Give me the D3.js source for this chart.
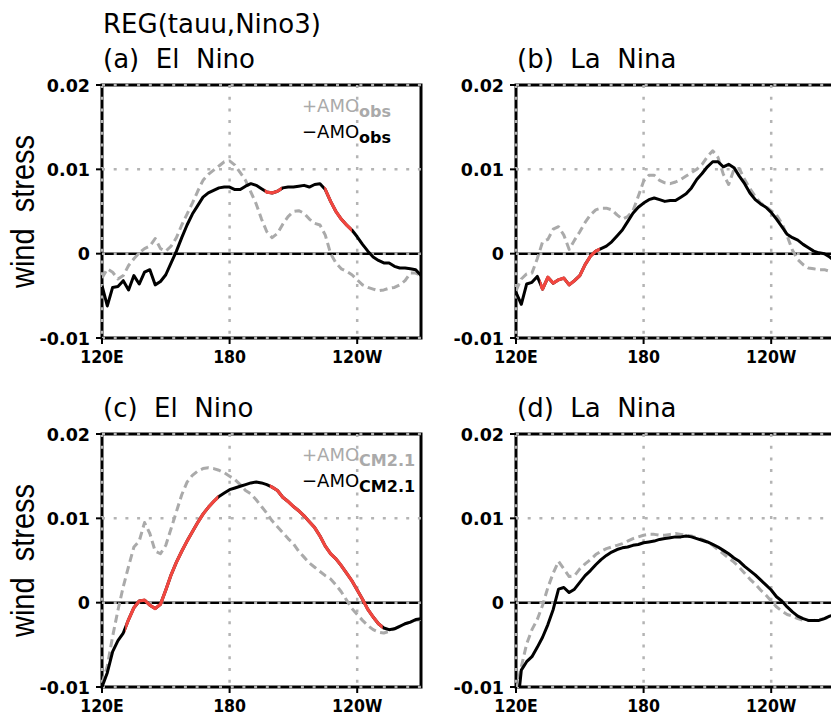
<!DOCTYPE html>
<html>
<head>
<meta charset="utf-8">
<script src="https://cdn.jsdelivr.net/npm/d3@7"></script>
<style>
  body { margin: 0; background: #fff; }
  text { white-space: pre; }
</style>
</head>
<body>
<svg id="chart" width="831" height="721"></svg>
<script>
// longitude grid (degrees east), 2.5 deg steps
const lons = d3.range(120, 270.001, 2.5);
const xTicks = [120, 180, 240];
const xTickLabels = ["120E", "180", "120W"];
const yTicks = [-0.01, 0, 0.01, 0.02];
const yTickLabels = ["-0.01", "0", "0.01", "0.02"];

// regression values, units of 1e-3
const obsElNinoPos = [
  -2.9, -1.8, -2.2, -3.0, -2.6, -1.4, -0.6, 0.1, 0.6, 0.9,
  1.8, 0.6, 0.3, 0.9, 1.9, 3.4, 4.7, 6.0, 7.4, 8.7,
  9.4, 9.9, 10.4, 10.9, 11.0, 10.5, 9.6, 8.7, 7.3, 5.9,
  4.1, 2.6, 1.9, 2.4, 3.5, 4.4, 5.0, 5.1, 4.8, 4.1,
  3.6, 3.4, 2.2, 0.0, -1.1, -1.8, -2.1, -2.5, -3.1, -3.7,
  -4.0, -4.2, -4.4, -4.3, -4.1, -4.0, -3.7, -3.2, -2.3, -2.3,
  -2.6
];
const obsElNinoNeg = [
  -3.8, -6.2, -4.0, -3.9, -3.2, -4.3, -2.6, -3.6, -2.2, -1.9,
  -3.7, -3.3, -2.5, -1.1, 0.3, 1.9, 3.4, 4.7, 5.7, 6.7,
  7.2, 7.5, 7.8, 7.9, 7.9, 7.6, 7.6, 8.0, 8.3, 8.1,
  7.7, 7.3, 7.2, 7.4, 7.8, 7.9, 7.9, 8.0, 8.1, 7.9,
  8.2, 8.3, 7.6, 6.2, 5.0, 4.1, 3.4, 2.8, 2.0, 1.1,
  0.3, -0.4, -0.8, -1.1, -1.1, -1.5, -1.7, -1.7, -1.8, -1.9,
  -2.6
];
const obsLaNinaPos = [
  -4.4, -3.0, -2.4, -2.3, -0.6, 1.4, 1.7, 2.9, 3.2, 2.2,
  0.5, 1.6, 2.6, 3.7, 4.6, 5.2, 5.4, 5.4, 5.2, 4.6,
  4.1, 4.4, 5.1, 6.8, 8.6, 9.3, 9.3, 8.7, 8.4, 8.3,
  8.5, 8.8, 9.2, 9.6, 10.0, 10.6, 11.5, 12.2, 11.4, 9.4,
  8.2, 10.0, 10.1, 8.8, 7.7, 6.8, 6.0, 5.6, 5.1, 4.6,
  3.6, 2.1, 0.4, -0.7, -1.3, -1.7, -1.8, -1.9, -1.9, -2.1,
  -2.2
];
const obsLaNinaNeg = [
  -4.6, -6.0, -3.6, -3.4, -2.7, -4.2, -2.8, -3.5, -3.1, -2.9,
  -3.7, -3.2, -2.6, -1.3, -0.3, 0.3, 0.6, 0.9, 1.4, 2.1,
  2.8, 3.8, 4.8, 5.5, 6.0, 6.4, 6.6, 6.4, 6.2, 6.3,
  6.3, 6.7, 7.1, 7.8, 8.8, 9.5, 10.3, 10.9, 10.9, 10.3,
  10.6, 10.2, 9.2, 8.3, 7.2, 6.4, 5.9, 5.5, 4.9, 4.1,
  3.2, 2.3, 1.9, 1.6, 1.1, 0.7, 0.3, 0.1, 0.0, -0.4,
  -0.9
];
const cmElNinoPos = [
  -9.6, -7.5, -4.0, -0.9, 1.9, 4.3, 6.6, 7.3, 9.5, 8.2,
  6.1, 5.8, 6.8, 8.8, 10.8, 12.8, 14.3, 15.1, 15.6, 15.9,
  16.0, 15.9, 15.7, 15.4, 15.0, 14.6, 14.0, 13.3, 12.9, 12.2,
  11.4, 10.6, 9.7, 9.0, 8.3, 7.6, 7.0, 6.1, 5.4, 4.7,
  4.2, 3.7, 3.2, 2.8, 2.1, 1.3, 0.3, -0.7, -1.4, -2.1,
  -2.7, -3.2, -3.5, -3.6, -3.4, -3.1, -2.8, -2.5, -2.3, -2.1,
  -2.0
];
const cmElNinoNeg = [
  -10.0, -8.3, -5.8, -4.5, -3.6, -2.0, -0.6, 0.2, 0.3, -0.3,
  -0.7, -0.2, 1.5, 3.3, 4.8, 6.1, 7.3, 8.4, 9.5, 10.5,
  11.3, 12.0, 12.6, 13.0, 13.4, 13.6, 13.8, 14.0, 14.2, 14.3,
  14.2, 14.0, 13.7, 13.3, 12.5, 12.0, 11.4, 10.9, 10.3, 9.6,
  8.9, 7.9, 6.7, 5.8, 5.2, 4.4, 3.5, 2.6, 1.5, 0.4,
  -0.8, -1.7, -2.5, -3.0, -3.2, -3.1, -2.8, -2.5, -2.3, -2.0,
  -1.9
];
const cmLaNinaPos = [
  -10.5, -7.6, -4.9, -3.2, -2.0, -0.3, 1.8, 3.5, 4.9, 4.0,
  3.1, 3.2, 4.0, 4.6, 5.1, 5.7, 6.1, 6.4, 6.6, 6.8,
  7.0, 7.3, 7.6, 7.8, 8.0, 8.1, 8.1, 8.0, 8.0, 8.1,
  8.2, 8.1, 8.0, 7.9, 7.7, 7.5, 7.2, 6.8, 6.3, 5.8,
  5.3, 4.8, 4.2, 3.5, 2.8, 2.2, 1.5, 0.9, 0.2, -0.5,
  -1.0, -1.4, -1.6, -1.9, -2.1, -2.1, -2.1, -2.0, -1.9, -1.7,
  -1.6
];
const cmLaNinaNeg = [
  -14.0, -8.0, -7.0, -6.4, -5.3, -4.1, -2.6, -0.8, 1.6, 1.8,
  1.2, 1.6, 2.4, 3.2, 3.8, 4.5, 5.1, 5.6, 6.0, 6.3,
  6.5, 6.6, 6.8, 6.9, 7.1, 7.2, 7.3, 7.5, 7.6, 7.7,
  7.8, 7.8, 7.9, 7.8, 7.6, 7.4, 7.2, 6.9, 6.6, 6.2,
  5.8, 5.3, 4.9, 4.3, 3.8, 3.3, 2.7, 2.1, 1.5, 0.7,
  0.2, -0.5, -1.1, -1.6, -1.9, -2.1, -2.1, -2.1, -1.9, -1.6,
  -1.4
];
// longitude ranges where the -AMO curve is significant (drawn red)
const obsElNinoSig = [[196.5, 204.5], [224.5, 237.5]];
const obsLaNinaSig = [[131.2, 159.4]];
const cmElNinoSig = [[130.9, 174.7], [198.9, 252.0]];
const cmLaNinaSig = [];

const W = 319, H = 253;
const panels = [
  { id: "a", left: 102, top: 85, title: "(a)  El  Nino", pos: obsElNinoPos, neg: obsElNinoNeg, sig: obsElNinoSig, legend: "obs", ylab: true },
  { id: "b", left: 516, top: 85, title: "(b)  La  Nina", pos: obsLaNinaPos, neg: obsLaNinaNeg, sig: obsLaNinaSig, legend: null, ylab: false },
  { id: "c", left: 102, top: 434, title: "(c)  El  Nino", pos: cmElNinoPos, neg: cmElNinoNeg, sig: cmElNinoSig, legend: "CM2.1", ylab: true },
  { id: "d", left: 516, top: 434, title: "(d)  La  Nina", pos: cmLaNinaPos, neg: cmLaNinaNeg, sig: cmLaNinaSig, legend: null, ylab: false }
];

const svg = d3.select("#chart");
const defs = svg.append("defs");
const gridColor = "#b4b4b4";

svg.append("text")
  .attr("x", 103).attr("y", 33)
  .attr("font-family", "DejaVu Sans").attr("font-size", 26)
  .text("REG(tauu,Nino3)");

panels.forEach(p => {
  const x = d3.scaleLinear().domain([120, 270]).range([0, W]);
  const y = d3.scaleLinear().domain([-0.01, 0.02]).range([H, 0]);
  const g = svg.append("g").attr("transform", `translate(${p.left},${p.top})`);

  defs.append("clipPath").attr("id", "clip-" + p.id)
    .append("rect").attr("width", W).attr("height", H);

  g.append("text")
    .attr("x", 1).attr("y", -17)
    .attr("font-family", "DejaVu Sans").attr("font-size", 26)
    .text(p.title);

  // frame and zero line
  g.append("rect").attr("width", W).attr("height", H)
    .attr("fill", "none").attr("stroke", "#000").attr("stroke-width", 3);
  g.append("line").attr("x1", 0).attr("x2", W).attr("y1", y(0)).attr("y2", y(0))
    .attr("stroke", "#000").attr("stroke-width", 2.5);

  // dotted grid at every tick (also lands on the frame)
  g.selectAll(".gx").data(xTicks).join("line")
    .attr("x1", d => x(d)).attr("x2", d => x(d)).attr("y1", 0).attr("y2", H)
    .attr("stroke", gridColor).attr("stroke-width", 2.5).attr("stroke-dasharray", "3,8.7");
  g.selectAll(".gy").data(yTicks).join("line")
    .attr("x1", 0).attr("x2", W).attr("y1", d => y(d)).attr("y2", d => y(d))
    .attr("stroke", gridColor).attr("stroke-width", 2.5).attr("stroke-dasharray", "3,8.7");

  // ticks and labels
  g.selectAll(".ty").data(yTicks).join("line")
    .attr("x1", -6).attr("x2", 0).attr("y1", d => y(d)).attr("y2", d => y(d))
    .attr("stroke", "#000").attr("stroke-width", 2);
  g.selectAll(".ly").data(yTicks).join("text")
    .attr("x", -12).attr("y", d => y(d) + 6.5)
    .attr("text-anchor", "end")
    .attr("font-family", "DejaVu Sans").attr("font-weight", "bold").attr("font-size", 17.5)
    .text((d, i) => yTickLabels[i]);
  g.selectAll(".tx").data(xTicks).join("line")
    .attr("x1", d => x(d)).attr("x2", d => x(d)).attr("y1", H).attr("y2", H + 6)
    .attr("stroke", "#000").attr("stroke-width", 2);
  g.selectAll(".lx").data(xTicks).join("text")
    .attr("x", d => x(d)).attr("y", H + 25)
    .attr("text-anchor", "middle")
    .attr("font-family", "DejaVu Sans Condensed, DejaVu Sans").attr("font-stretch", "condensed")
    .attr("font-weight", "bold").attr("font-size", 17.5)
    .text((d, i) => xTickLabels[i]);

  const line = d3.line().x((d, i) => x(lons[i])).y(d => y(d / 1000));
  const plot = g.append("g").attr("clip-path", `url(#clip-${p.id})`);

  plot.append("path").attr("d", line(p.pos))
    .attr("fill", "none").attr("stroke", "#aaaaaa").attr("stroke-width", 3)
    .attr("stroke-dasharray", "8,4.5").attr("stroke-linejoin", "round");
  plot.append("path").attr("d", line(p.neg))
    .attr("fill", "none").attr("stroke", "#000").attr("stroke-width", 3)
    .attr("stroke-linejoin", "round");

  p.sig.forEach((s, k) => {
    const cid = `sig-${p.id}-${k}`;
    defs.append("clipPath").attr("id", cid)
      .append("rect").attr("x", x(s[0])).attr("width", x(s[1]) - x(s[0]))
      .attr("y", -20).attr("height", H + 40);
    plot.append("path").attr("d", line(p.neg))
      .attr("clip-path", `url(#${cid})`)
      .attr("fill", "none").attr("stroke", "#f2463f").attr("stroke-width", 3.2)
      .attr("stroke-linejoin", "round");
  });

  if (p.legend) {
    const items = [{ sign: "+", color: "#aaaaaa" }, { sign: "\u2212", color: "#000" }];
    items.forEach((it, k) => {
      const t = g.append("text")
        .attr("x", 200).attr("y", 27 + k * 26)
        .attr("font-family", "DejaVu Sans").attr("font-size", 18)
        .attr("fill", it.color);
      t.append("tspan").text(it.sign + "AMO");
      t.append("tspan").attr("dy", 5).attr("font-size", 16).attr("font-weight", "bold")
        .text(p.legend);
    });
  }

  if (p.ylab) {
    svg.append("text")
      .attr("transform", `translate(34,${p.top + H / 2}) rotate(-90) scale(1,1.15)`)
      .attr("text-anchor", "middle")
      .attr("font-family", "Liberation Sans").attr("font-size", 29)
      .text("wind  stress");
  }
});
</script>
</body>
</html>
